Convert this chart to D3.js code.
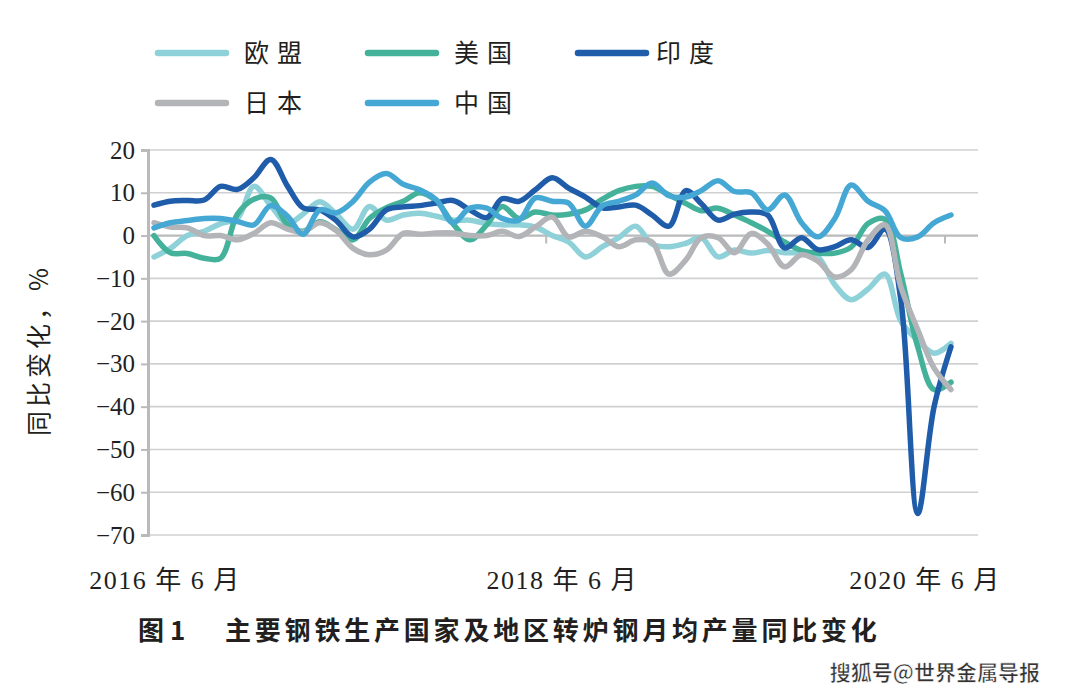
<!DOCTYPE html>
<html>
<head>
<meta charset="utf-8">
<script src="https://cdn.jsdelivr.net/npm/d3@7"></script>
<style>
  body { margin: 0; background: #fff; }
  svg { display: block; }
</style>
</head>
<body>
<div id="chart"></div>
<script>
// monthly data, 2016-06 .. 2020-06
const startMonth = new Date(2016, 5, 1);
const months = d3.timeMonth.range(startMonth, new Date(2020, 6, 1));

const seriesNames = ["欧盟", "美国", "印度", "日本", "中国"];
const seriesColors = ["#8ed1d8", "#44b29b", "#1f5ca9", "#b2b4b7", "#45a8d4"];

const euValues = [-5, -3, 0, 1, 2.8, 4, 11.5, 7, 2.8, 5, 7.9, 5, 1.5, 6.8, 3.6, 4.8, 5.2, 4.5, 3.6, 3.6,
  2.8, 2.5, 2.5, 2, 0, -1.5, -5, -2.6, -0.5, 2.2, -2, -2.6, -1.8, -0.5, -5, -3.4, -4.1, -3.5, -4, -4.1,
  -5, -11.5, -15, -12.5, -9, -20, -24.5, -27.5, -25.2];
const usValues = [0, -4, -4.2, -5.3, -5.3, 5, 8.5, 8.8, 2.5, 1, 3.2, 1.3, -1, 4, 6.5, 8, 10, 8, 2.8, -1,
  2.5, 6.8, 4, 5.5, 4.8, 5, 6, 8.5, 10.5, 11.5, 11.5, 9.5, 7.5, 5.8, 6.4, 4.8, 3, 1, -1.5, -3.5,
  -4.1, -4.1, -2.7, 2.8, 3.8, -9, -26, -36, -34.3];
const indiaValues = [7.1, 8, 8.2, 8.3, 11.5, 10.8, 13.5, 17.8, 11.5, 6.5, 6, 3.5, -0.3, 1.5, 6, 6.7, 7, 7.6, 8.2, 6,
  4.2, 8.6, 8, 10.7, 13.5, 11.1, 9, 6.5, 6.7, 7.1, 4.8, 2.2, 10.5, 7.5, 3.6, 5, 5.5, 4.8, -2.9, -0.5,
  -3.3, -2.6, -1, -2.8, 1.5, -15, -65, -40, -26];
const japanValues = [3, 2, 1.8, 0, 0, -1, 0.5, 3, 1.5, 0.8, 3, 1.2, -3, -4.5, -3.4, 0.5, 0.3, 0.6, 0.6, 0,
  0, 1, -0.2, 2, 4.3, -0.3, 1, -0.3, -2.6, -1, -1.5, -9, -5.7, -0.5, -0.5, -4, 0.5, -2, -7.3, -4.5,
  -6, -9.7, -8, -1, 2.5, -12, -22, -31, -36];
const chinaValues = [1.8, 3, 3.5, 4, 4, 3.3, 2.5, 7, 4.5, 0.3, 6, 5.3, 8, 12.5, 14.5, 12, 10.7, 8.3, 3, 6.4,
  6.4, 4, 3.6, 8.8, 8, 7.6, 2.2, 7, 8, 9.5, 12.3, 9.3, 9, 10.5, 12.8, 10.3, 10, 6, 9.5, 3,
  -0.3, 4, 11.8, 8, 5.8, -0.5, -0.3, 3, 4.8];

const seriesValues = [euValues, usValues, indiaValues, japanValues, chinaValues];

const yTicks = [20, 10, 0, -10, -20, -30, -40, -50, -60, -70];
const xTickMonths = [new Date(2016, 5, 1), new Date(2018, 5, 1), new Date(2020, 5, 1)];
const xTickLabels = ["2016 年 6 月", "2018 年 6 月", "2020 年 6 月"];

const width = 1066, height = 695;
const svg = d3.select("#chart").append("svg")
  .attr("width", width)
  .attr("height", height);

const x = d3.scaleTime()
  .domain([startMonth, new Date(2020, 5, 1)])
  .range([148, 945]);
const y = d3.scaleLinear()
  .domain([-70, 20])
  .range([535, 150]);
const plotRight = 978;

// grid lines
svg.append("g")
  .selectAll("line")
  .data(yTicks)
  .join("line")
  .attr("x1", x.range()[0])
  .attr("x2", plotRight)
  .attr("y1", d => y(d))
  .attr("y2", d => y(d))
  .attr("stroke", d => d === 0 ? "#b9babc" : "#cfd0d2")
  .attr("stroke-width", d => d === 0 ? 2.2 : 1.6);

// left axis
const yAxis = svg.append("g")
  .attr("transform", `translate(${x.range()[0]},0)`)
  .call(d3.axisLeft(y).tickValues(yTicks).tickSize(7).tickPadding(6)
    .tickFormat(d => d < 0 ? "\u2212" + Math.abs(d) : d));
yAxis.select(".domain").attr("stroke", "#b9babc").attr("stroke-width", 3);
yAxis.selectAll(".tick line").attr("stroke", "#b9babc").attr("stroke-width", 2);
yAxis.selectAll(".tick text")
  .attr("font-family", "'Liberation Serif', 'Times New Roman', serif")
  .attr("font-size", 25)
  .attr("fill", "#231f20");

// small ticks on zero line
svg.append("g")
  .selectAll("line")
  .data(xTickMonths.slice(1))
  .join("line")
  .attr("x1", d => x(d))
  .attr("x2", d => x(d))
  .attr("y1", y(0))
  .attr("y2", y(0) + 8)
  .attr("stroke", "#b9babc")
  .attr("stroke-width", 2);

// x labels
const labelShift = [17, 16, -20];
svg.append("g")
  .selectAll("text")
  .data(xTickMonths)
  .join("text")
  .attr("x", (d, i) => x(d) + labelShift[i])
  .attr("y", 589)
  .attr("text-anchor", "middle")
  .attr("font-family", "'Liberation Serif', 'Noto Sans CJK SC', serif")
  .attr("font-size", 26)
  .attr("letter-spacing", 1.5)
  .attr("fill", "#231f20")
  .text((d, i) => xTickLabels[i]);

// y axis title
svg.append("text")
  .attr("transform", "translate(48,350) rotate(-90)")
  .attr("text-anchor", "middle")
  .attr("font-family", "'Noto Sans CJK SC', sans-serif")
  .attr("font-size", 25)
  .attr("letter-spacing", 4)
  .attr("fill", "#231f20")
  .text("同比变化，%");

// lines
const line = d3.line()
  .x((d, i) => x(d3.timeDay.offset(months[i], 11)))
  .y(d => y(d))
  .curve(d3.curveCatmullRom.alpha(0.5));

svg.append("g")
  .selectAll("path")
  .data(seriesValues)
  .join("path")
  .attr("d", d => line(d))
  .attr("fill", "none")
  .attr("stroke", (d, i) => seriesColors[i])
  .attr("stroke-width", 5.5)
  .attr("stroke-linejoin", "round")
  .attr("stroke-linecap", "round");

// legend
const legendPos = [[158, 53], [368, 53], [578, 53], [158, 103], [368, 103]];
const legend = svg.append("g")
  .selectAll("g")
  .data(seriesNames)
  .join("g")
  .attr("transform", (d, i) => `translate(${legendPos[i][0]},${legendPos[i][1]})`);
legend.append("line")
  .attr("x1", 0).attr("x2", 68)
  .attr("stroke", (d, i) => seriesColors[i])
  .attr("stroke-width", 6.5)
  .attr("stroke-linecap", "round");
legend.append("text")
  .attr("x", (d, i) => i === 2 ? 78 : 86)
  .attr("y", 9)
  .attr("font-family", "'Noto Sans CJK SC', sans-serif")
  .attr("font-size", 25)
  .attr("letter-spacing", 8)
  .attr("fill", "#231f20")
  .text(d => d);

// caption
svg.append("text")
  .attr("x", 138)
  .attr("y", 640)
  .attr("font-family", "'Noto Sans CJK SC', sans-serif")
  .attr("font-weight", "bold")
  .attr("font-size", 26)
  .attr("fill", "#231f20")
  .text("图 1");
svg.append("text")
  .attr("x", 225)
  .attr("y", 640)
  .attr("font-family", "'Noto Sans CJK SC', sans-serif")
  .attr("font-weight", "bold")
  .attr("font-size", 26)
  .attr("letter-spacing", 3.8)
  .attr("fill", "#231f20")
  .text("主要钢铁生产国家及地区转炉钢月均产量同比变化");

// watermark
svg.append("text")
  .attr("x", 1040)
  .attr("y", 680)
  .attr("text-anchor", "end")
  .attr("font-family", "'Noto Sans CJK SC', sans-serif")
  .attr("font-weight", "bold")
  .attr("font-size", 21)
  .attr("fill", "#333")
  .attr("stroke", "#fff")
  .attr("stroke-width", 0.6)
  .text("搜狐号@世界金属导报");
</script>
</body>
</html>
